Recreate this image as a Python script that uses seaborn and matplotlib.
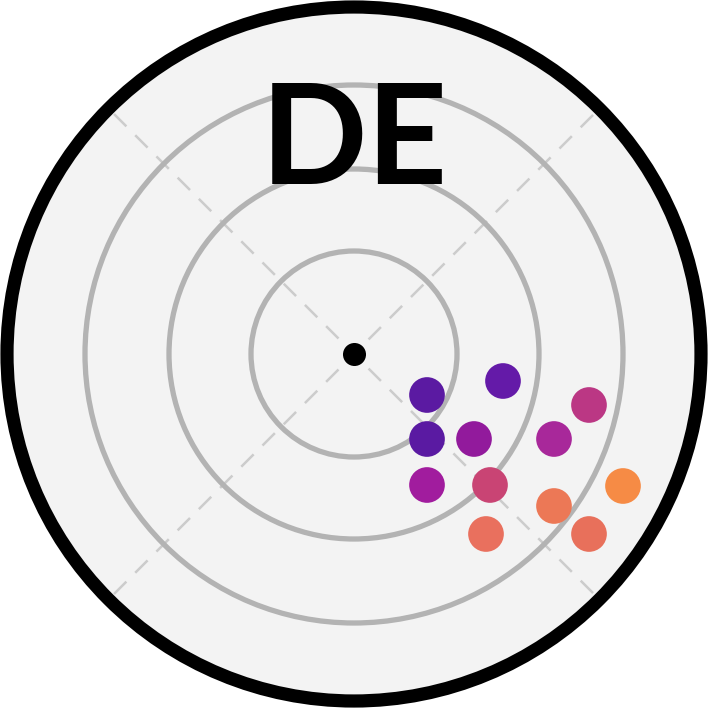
import matplotlib
matplotlib.use("Agg")
import matplotlib.pyplot as plt
import seaborn as sns
import pandas as pd
from matplotlib.patches import Circle

# Data (offsets from the centre, in the chart's pixel units; y positive = down)
point_x = [73, 149, 73, 120, 200, 235, 73, 136, 269, 200, 132, 235]
point_y = [41, 27, 85, 85, 85, 51, 131, 131, 132, 152, 180, 180]
point_colors = ["#5b1aa2", "#641aa8", "#5a1aa2", "#921a9c", "#a8289a", "#bb3784",
                "#a11c9e", "#c94474", "#f68b45", "#ec7856", "#e9705e", "#e8705b"]
ring_radii = [103, 185, 269]
label = "DE"

sns.set_theme(style="white")
fig = plt.figure(figsize=(7.08, 7.08), dpi=100)
ax = fig.add_axes([0, 0, 1, 1])
ax.set_xlim(-354, 354)
ax.set_ylim(354, -354)
ax.set_aspect("equal")
ax.axis("off")

# background disc
ax.add_patch(Circle((0, 0), 346, facecolor="#f3f3f3", edgecolor="none", zorder=0))

# dashed diagonals
d = 240
ax.plot([-d, d], [-d, d], ls=(0, (7, 5)), color="#cccccc", lw=1.8, zorder=1)
ax.plot([-d, d], [d, -d], ls=(0, (7, 5)), color="#cccccc", lw=1.8, zorder=1)

# rings
for r in ring_radii:
    ax.add_patch(Circle((0, 0), r, facecolor="none", edgecolor="#b3b3b3", lw=3.8, zorder=2))

# outer border
ax.add_patch(Circle((0, 0), 347, facecolor="none", edgecolor="black", lw=9.5, zorder=5))

# centre dot
ax.scatter([0], [0], s=275, color="black", zorder=4, linewidths=0)

df = pd.DataFrame({"x": point_x, "y": point_y, "id": [str(i) for i in range(len(point_x))]})
sns.scatterplot(data=df, x="x", y="y", hue="id", palette=point_colors, s=660,
                linewidth=0, legend=False, ax=ax, zorder=6)
ax.set_xlabel("")
ax.set_ylabel("")

ax.text(0, -211, label, ha="center", va="center", fontsize=101, fontweight="bold",
        family=["Lato", "DejaVu Sans"], color="black", zorder=7)

fig.savefig("out.png", dpi=100)
